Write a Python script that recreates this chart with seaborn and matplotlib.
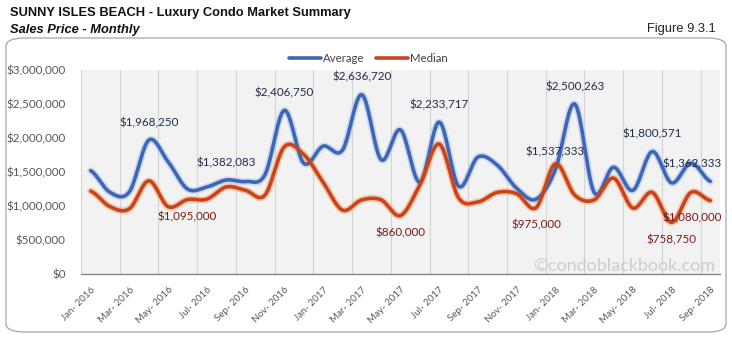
import numpy as np
import pandas as pd
import matplotlib
matplotlib.use("Agg")
import matplotlib.pyplot as plt
from matplotlib.patches import FancyBboxPatch
import seaborn as sns

# ---- data ----
months = ["Jan- 2016", "Feb- 2016", "Mar- 2016", "Apr- 2016", "May- 2016", "Jun- 2016",
          "Jul- 2016", "Aug- 2016", "Sep- 2016", "Oct- 2016", "Nov- 2016", "Dec- 2016",
          "Jan- 2017", "Feb- 2017", "Mar- 2017", "Apr- 2017", "May- 2017", "Jun- 2017",
          "Jul- 2017", "Aug- 2017", "Sep- 2017", "Oct- 2017", "Nov- 2017", "Dec- 2017",
          "Jan- 2018", "Feb- 2018", "Mar- 2018", "Apr- 2018", "May- 2018", "Jun- 2018",
          "Jul- 2018", "Aug- 2018", "Sep- 2018"]
average = [1520000, 1200000, 1210000, 1968250, 1650000, 1250000,
           1280000, 1382083, 1360000, 1460000, 2406750, 1630000,
           1880000, 1820000, 2636720, 1680000, 2120000, 1350000,
           2233717, 1290000, 1720000, 1600000, 1260000, 1100000,
           1537333, 2500263, 1200000, 1570000, 1230000, 1800571,
           1340000, 1630000, 1362333]
median = [1220000, 990000, 960000, 1370000, 990000, 1095000,
          1100000, 1280000, 1230000, 1160000, 1870000, 1760000,
          1350000, 940000, 1090000, 1090000, 860000, 1310000,
          1910000, 1120000, 1060000, 1200000, 1180000, 975000,
          1620000, 1160000, 1090000, 1410000, 970000, 1200000,
          758750, 1200000, 1080000]
avg_labels = {3: "$1,968,250", 7: "$1,382,083", 10: "$2,406,750", 14: "$2,636,720",
              18: "$2,233,717", 24: "$1,537,333", 25: "$2,500,263", 29: "$1,800,571",
              32: "$1,362,333"}
med_labels = {5: "$1,095,000", 16: "$860,000", 23: "$975,000", 30: "$758,750",
              32: "$1,080,000"}
yticks = [0, 500000, 1000000, 1500000, 2000000, 2500000, 3000000]
ytick_labels = ["$0", "$500,000", "$1,000,000", "$1,500,000", "$2,000,000",
                "$2,500,000", "$3,000,000"]


def smooth(y, n=20):
    """Catmull-Rom smoothing through the data points (like Excel smoothed lines)."""
    y = np.asarray(y, dtype=float)
    p = np.concatenate([[y[0]], y, [y[-1]]])
    xs, ys = [], []
    for i in range(len(y) - 1):
        p0, p1, p2, p3 = p[i], p[i + 1], p[i + 2], p[i + 3]
        t = np.linspace(0, 1, n, endpoint=False)
        yy = 0.5 * ((2 * p1) + (-p0 + p2) * t + (2 * p0 - 5 * p1 + 4 * p2 - p3) * t ** 2
                    + (-p0 + 3 * p1 - 3 * p2 + p3) * t ** 3)
        xs.extend(i + t)
        ys.extend(yy)
    xs.append(len(y) - 1)
    ys.append(y[-1])
    return np.array(xs), np.array(ys)


sns.set_theme(style="white")
plt.rcParams['font.family'] = ['Lato', 'DejaVu Sans']

fig = plt.figure(figsize=(7.32, 3.39), dpi=100)
ax = fig.add_axes([81 / 732, 1 - 274 / 339, (720 - 81) / 732, (274 - 70) / 339])
ax.set_facecolor("#F2F2F2")

blue = "#3D66B8"
red = "#C8431E"

xa, ya = smooth(average)
xm, ym = smooth(median)
df_a = pd.DataFrame({"x": xa, "y": ya})
df_m = pd.DataFrame({"x": xm, "y": ym})

# glow
sns.lineplot(data=df_a, x="x", y="y", ax=ax, color="#A9C4EC", linewidth=5.0,
             alpha=0.5, estimator=None, sort=False, zorder=3)
sns.lineplot(data=df_m, x="x", y="y", ax=ax, color="#F6B07A", linewidth=5.0,
             alpha=0.6, estimator=None, sort=False, zorder=3)
sns.lineplot(data=df_a, x="x", y="y", ax=ax, color=blue, linewidth=2.6,
             estimator=None, sort=False, zorder=4, label="Average")
sns.lineplot(data=df_m, x="x", y="y", ax=ax, color=red, linewidth=2.6,
             estimator=None, sort=False, zorder=4, label="Median")

n = len(months)
ax.set_xlim(-0.5, n - 0.5)
ax.set_ylim(0, 3000000)

# vertical gridlines at category boundaries every 2 months
for b in np.arange(-0.5, n - 0.5, 2):
    ax.axvline(b, color="#D4D4D4", linewidth=0.8, zorder=1)

ax.set_yticks(yticks)
ax.set_yticklabels(ytick_labels, fontsize=8.4, color="#595959")
ax.tick_params(axis="y", length=0, pad=11)

ax.set_xticks(np.arange(0, n, 2))
ax.set_xticklabels(months[::2], rotation=45, ha="right", rotation_mode="anchor",
                   fontsize=7.0, color="#595959")
ax.tick_params(axis="x", length=0, pad=8)
ax.set_xticks(np.arange(-0.5, n, 2), minor=True)
ax.tick_params(axis="x", which="minor", length=4, width=0.8, color="#808080",
               direction="out")

for s in ["top", "right", "left"]:
    ax.spines[s].set_visible(False)
ax.spines["bottom"].set_color("#808080")
ax.spines["bottom"].set_linewidth(0.9)
ax.set_xlabel("")
ax.set_ylabel("")

last = n - 1
for i, t in avg_labels.items():
    if i == last:
        ax.annotate(t, (i, average[i]), xytext=(8, 12.5), textcoords="offset points",
                    ha="right", va="center", fontsize=8.4, color="#1F2D4A", zorder=6,
                    annotation_clip=False)
    else:
        ax.annotate(t, (i, average[i]), xytext=(0, 12.5), textcoords="offset points",
                    ha="center", va="center", fontsize=8.4, color="#1F2D4A", zorder=6)
for i, t in med_labels.items():
    if i == last:
        ax.annotate(t, (i, median[i]), xytext=(8, -12.5), textcoords="offset points",
                    ha="right", va="center", fontsize=8.4, color="#7A1A14", zorder=6,
                    annotation_clip=False)
    else:
        ax.annotate(t, (i, median[i]), xytext=(0, -12.5), textcoords="offset points",
                    ha="center", va="center", fontsize=8.4, color="#7A1A14", zorder=6)

leg = ax.legend(loc="lower center", bbox_to_anchor=(0.45, 1.0), ncol=2, frameon=False,
                fontsize=8.2, handlelength=2.8, columnspacing=1.0, handletextpad=0.2,
                borderaxespad=0.1)
for text in leg.get_texts():
    text.set_color("#404040")
leg.set_zorder(7)

# watermark
fig.text(715 / 732, 1 - 266 / 339, "\u00a9condoblackbook.com", ha="right", va="center",
         fontsize=13, color="#CDCDCD", zorder=10)

# titles
fig.text(10 / 732, 1 - 13 / 339, "SUNNY ISLES BEACH - Luxury Condo Market Summary",
         ha="left", va="center", fontsize=9.3, fontweight="bold",
         family="Liberation Sans", color="#111111")
fig.text(10 / 732, 1 - 30 / 339, "Sales Price - Monthly", ha="left", va="center",
         fontsize=9.3, fontweight="bold", style="italic", family="Liberation Sans",
         color="#111111")
fig.text(716 / 732, 1 - 29 / 339, "Figure 9.3.1", ha="right", va="center",
         fontsize=9.3, family="Liberation Sans", color="#222222")

# rounded outer frame
frame = FancyBboxPatch((6 / 732, 1 - 332 / 339), (726 - 6) / 732, (332 - 38) / 339,
                       boxstyle="round,pad=0,rounding_size=0.025",
                       transform=fig.transFigure, fill=False, edgecolor="#A6A6A6",
                       linewidth=0.9, zorder=0)
fig.patches.append(frame)

fig.savefig("out.png", dpi=100)
